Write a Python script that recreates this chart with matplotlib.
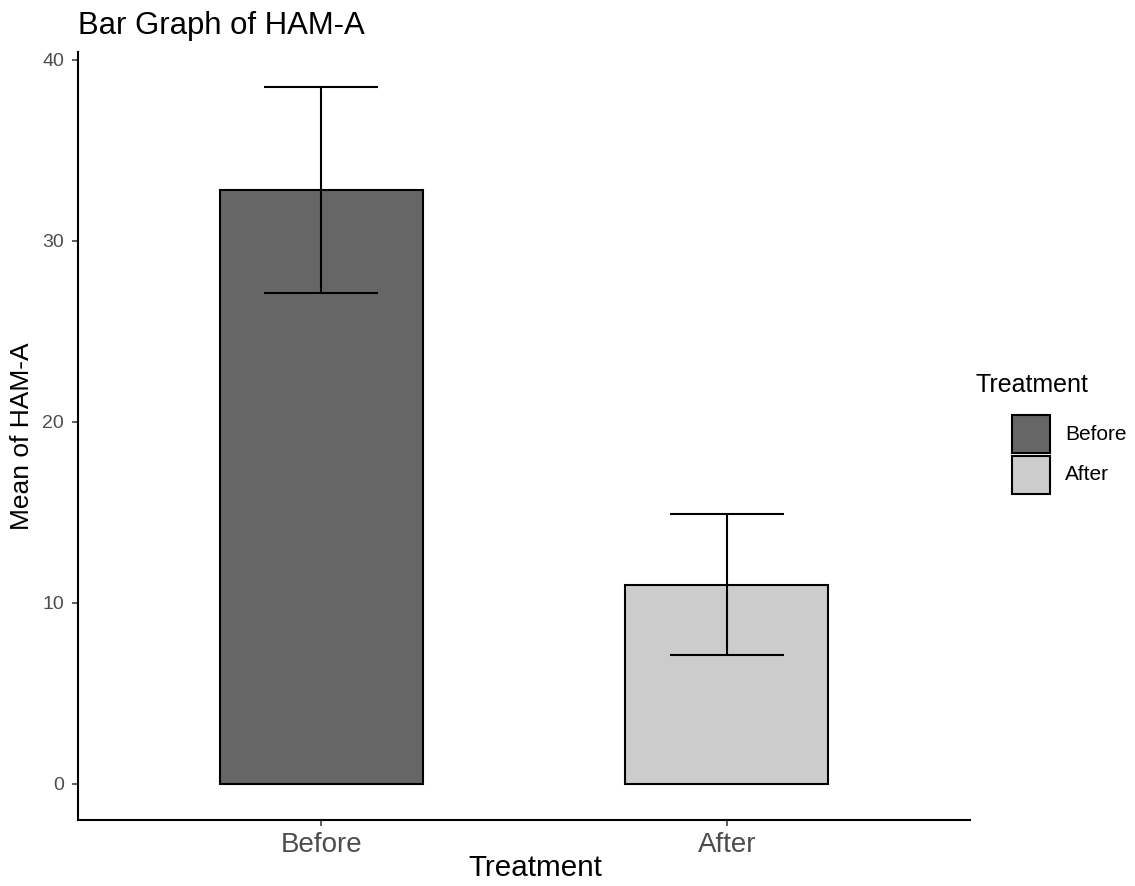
import matplotlib.pyplot as plt
from matplotlib.patches import Rectangle

plt.rcParams['font.family'] = ['Liberation Sans', 'DejaVu Sans']

groups = ['Before', 'After']
means = [32.8, 11.0]
errs = [5.7, 3.9]
colors = ['#666666', '#cccccc']

W, H = 1135, 886


def fx(px):
    return px / W


def fy(py):
    # pixel from top -> figure fraction
    return 1 - py / H


fig = plt.figure(figsize=(W / 100, H / 100), dpi=100)
ax = fig.add_axes([fx(78), fy(820), fx(970 - 78), (820 - 52) / H])

x = [1, 2]
ax.bar(x, means, width=0.5, color=colors, edgecolor='black', linewidth=1.5, zorder=2)
ax.errorbar(x, means, yerr=errs, fmt='none', ecolor='black', elinewidth=1.5,
            capsize=41, capthick=1.5, zorder=3)

ax.set_xlim(0.4, 2.6)
ax.set_ylim(-1.99, 40.44)
ax.set_xticks(x)
ax.set_xticklabels(groups)
ax.set_yticks([0, 10, 20, 30, 40])

for s in ['top', 'right']:
    ax.spines[s].set_visible(False)
for s in ['left', 'bottom']:
    ax.spines[s].set_linewidth(1.5)
ax.tick_params(axis='both', direction='out', length=4, width=1.1, color='#333333',
               labelcolor='#4d4d4d')
ax.tick_params(axis='y', labelsize=14, pad=6)
ax.tick_params(axis='x', labelsize=20, pad=5)

# titles / axis labels placed like the ggplot output
fig.text(fx(78), fy(34), 'Bar Graph of HAM-A', fontsize=22.4, va='baseline', ha='left')
fig.text(fx(535), fy(876), 'Treatment', fontsize=21.3, va='baseline', ha='center')
fig.text(fx(22), fy(436), 'Mean of HAM-A', fontsize=19, rotation=90,
         va='center', ha='center')

# legend
fig.text(fx(975), fy(392), 'Treatment', fontsize=18, va='baseline', ha='left')
for i, (g, c) in enumerate(zip(groups, colors)):
    top = 415 + 41 * i
    fig.patches.append(Rectangle((fx(1012), fy(top + 38)), fx(38), 38 / H,
                                 transform=fig.transFigure, facecolor=c,
                                 edgecolor='black', linewidth=1.5))
    fig.text(fx(1065), fy(top + 19), g, fontsize=15, va='center', ha='left')

fig.savefig('out.png', dpi=100)
